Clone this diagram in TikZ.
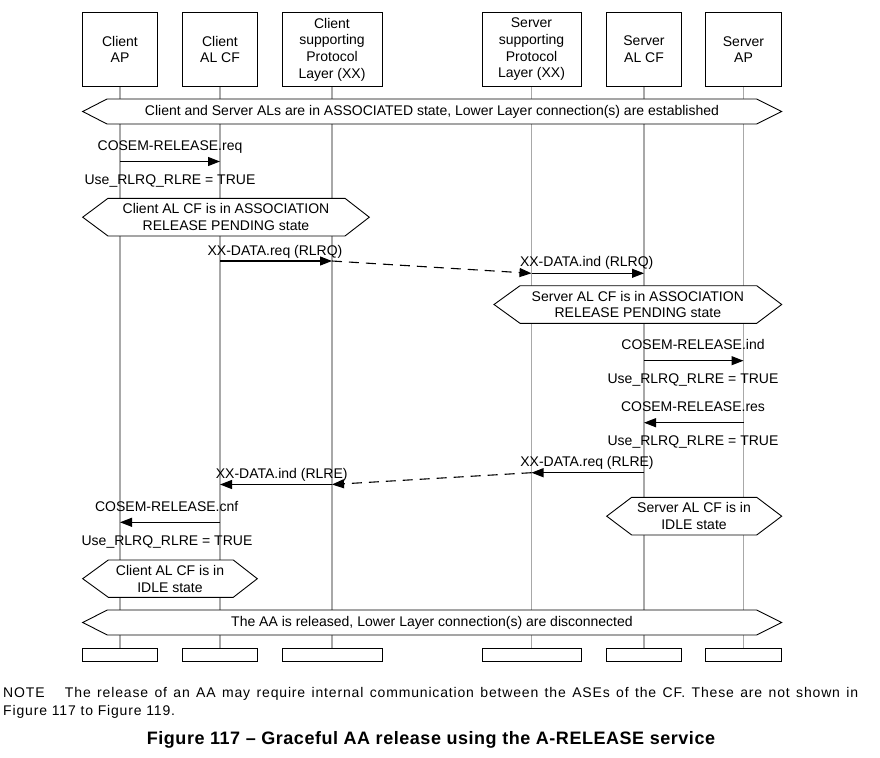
\documentclass[tikz,border=0pt]{standalone}
\usepackage{fontspec}
\setmainfont{Liberation Sans}
\newfontfamily\notefont[LetterSpace=6]{Liberation Sans}
\newfontfamily\capfont[LetterSpace=3]{Liberation Sans}
\usetikzlibrary{arrows.meta}
\definecolor{lifegray}{HTML}{A8A8A8}
\tikzset{
  entity/.style={draw=black, line width=1pt, fill=white, minimum height=74.7pt, inner sep=1pt, align=center, font=\fontsize{14}{16.7}\selectfont},
  endbox/.style={draw=black, line width=1pt, fill=white, minimum height=12.7pt, inner sep=0pt},
  lifeline/.style={draw=lifegray, line width=1.1pt},
  statebox/.style={draw=black, line width=0.9pt, fill=white},
  statetext/.style={align=center, inner sep=0pt, font=\fontsize{14}{16.7}\selectfont},
  lbl/.style={anchor=base, inner sep=0pt, font=\fontsize{14}{16.7}\selectfont},
  msg/.style={draw=black, line width=1.1pt, -{Triangle[length=12pt,width=9pt]}},
  dashmsg/.style={msg, dash pattern=on 10pt off 7pt}
}
\begin{document}
\begin{tikzpicture}[x=1pt,y=-1pt]
\useasboundingbox (0,0) rectangle (880,757);
% top entities
\node[entity, minimum width=75pt] (tAP) at (120,49.5) {Client\\AP};
\node[entity, minimum width=75pt] (tCF) at (220,49.5) {Client\\AL CF};
\node[entity, minimum width=100pt] (tCPL) at (332,49.5) {Client\\supporting\\Protocol\\Layer (XX)};
\node[entity, minimum width=99pt] (tSPL) at (531.5,49.5) {Server\\supporting\\Protocol\\Layer (XX)};
\node[entity, minimum width=75pt] (tSCF) at (644,49.5) {Server\\AL CF};
\node[entity, minimum width=76pt] (tSAP) at (743.5,49.5) {Server\\AP};
% bottom boxes
\node[endbox, minimum width=75pt] (bAP) at (120,654.7) {};
\node[endbox, minimum width=75pt] (bCF) at (220,654.7) {};
\node[endbox, minimum width=100pt] (bCPL) at (332,654.7) {};
\node[endbox, minimum width=99pt] (bSPL) at (531.5,654.7) {};
\node[endbox, minimum width=75pt] (bSCF) at (644,654.7) {};
\node[endbox, minimum width=76pt] (bSAP) at (743.5,654.7) {};
% lifelines
\draw[lifeline] (tAP.south) -- (bAP.north);
\draw[lifeline] (tCF.south) -- (bCF.north);
\draw[lifeline] (tCPL.south) -- (bCPL.north);
\draw[lifeline] (tSPL.south) -- (bSPL.north);
\draw[lifeline] (tSCF.south) -- (bSCF.north);
\draw[lifeline] (tSAP.south) -- (bSAP.north);
% state banners
\draw[statebox] (82.7,111.5) -- (107,99) -- (756.7,99) -- (781.7,111.5) -- (756.7,124) -- (107,124) -- cycle;
\node[statetext] (s1) at (432,111.5) {Client and Server ALs are in ASSOCIATED state, Lower Layer connection(s) are established};
\draw[statebox] (82.7,217.2) -- (108,198.3) -- (345,198.3) -- (369.3,217.2) -- (345,236) -- (108,236) -- cycle;
\node[statetext] (s2) at (226,217.2) {Client AL CF is in ASSOCIATION\\RELEASE PENDING state};
\draw[statebox] (494,304.5) -- (520,285.7) -- (756.7,285.7) -- (781.7,304.5) -- (756.7,323.3) -- (520,323.3) -- cycle;
\node[statetext] (s3) at (637.8,304.5) {Server AL CF is in ASSOCIATION\\RELEASE PENDING state};
\draw[statebox] (606.7,516.2) -- (631.7,497.3) -- (756.7,497.3) -- (781.7,516.2) -- (756.7,535) -- (631.7,535) -- cycle;
\node[statetext] (s4) at (694,516.2) {Server AL CF is in\\IDLE state};
\draw[statebox] (82.7,578.7) -- (108.3,560) -- (233.3,560) -- (257.3,578.7) -- (233.3,597.3) -- (108.3,597.3) -- cycle;
\node[statetext] (s5) at (170,578.7) {Client AL CF is in\\IDLE state};
\draw[statebox] (82.7,622.5) -- (107.3,610) -- (756.7,610) -- (781.7,622.5) -- (756.7,635) -- (107.3,635) -- cycle;
\node[statetext] (s6) at (432,622.5) {The AA is released, Lower Layer connection(s) are disconnected};
% message end points
\coordinate (a1s) at (120,161.5); \coordinate (a1e) at (220,161.5);
\coordinate (a2s) at (220,261); \coordinate (a2e) at (332,261);
\coordinate (a3e) at (531.5,273.3); \coordinate (a4e) at (644,273.3);
\coordinate (a5s) at (644,360.7); \coordinate (a5e) at (743.5,360.7);
\coordinate (a6s) at (743.5,422.7); \coordinate (a6e) at (644,422.7);
\coordinate (a7s) at (644,472.7); \coordinate (a7e) at (531.5,472.7);
\coordinate (a8e) at (332,484.5); \coordinate (a9e) at (220,484.5);
\coordinate (a10s) at (220,522.3); \coordinate (a10e) at (120,522.3);
% messages
\draw[msg] (a1s) -- (a1e);
\draw[msg] (a2s) -- (a2e);
\draw[dashmsg] (a2e) -- (a3e);
\draw[msg] (a3e) -- (a4e);
\draw[msg] (a5s) -- (a5e);
\draw[msg] (a6s) -- (a6e);
\draw[msg] (a7s) -- (a7e);
\draw[dashmsg] (a7e) -- (a8e);
\draw[msg] (a8e) -- (a9e);
\draw[msg] (a10s) -- (a10e);
% labels
\node[lbl] (l1) at (170,150) {COSEM-RELEASE.req};
\node[lbl] (l2) at (170,184) {Use\_RLRQ\_RLRE = TRUE};
\node[lbl] (l3) at (275,255) {XX-DATA.req (RLRQ)};
\node[lbl] (l4) at (586.7,266) {XX-DATA.ind (RLRQ)};
\node[lbl] (l5) at (693,349.3) {COSEM-RELEASE.ind};
\node[lbl] (l6) at (693,383.3) {Use\_RLRQ\_RLRE = TRUE};
\node[lbl] (l7) at (693,411) {COSEM-RELEASE.res};
\node[lbl] (l8) at (693,445) {Use\_RLRQ\_RLRE = TRUE};
\node[lbl] (l9) at (587,466.7) {XX-DATA.req (RLRE)};
\node[lbl] (l10) at (281.7,478.3) {XX-DATA.ind (RLRE)};
\node[lbl] (l11) at (166.7,511) {COSEM-RELEASE.cnf};
\node[lbl] (l12) at (167,545.3) {Use\_RLRQ\_RLRE = TRUE};
% note and caption
\node[anchor=north west, inner sep=0pt, align=left, font=\notefont\fontsize{14}{18}\selectfont] (note) at (3,687)
  {\makebox[855pt][s]{NOTE\hspace*{14pt} The release of an AA may require internal communication between the ASEs of the CF. These are not shown in}\\Figure 117 to Figure 119.};
\node[anchor=base, inner sep=0pt, font=\capfont\bfseries\fontsize{18}{22}\selectfont] (cap) at (431,744.5) {Figure 117 – Graceful AA release using the A-RELEASE service};
\end{tikzpicture}
\end{document}
